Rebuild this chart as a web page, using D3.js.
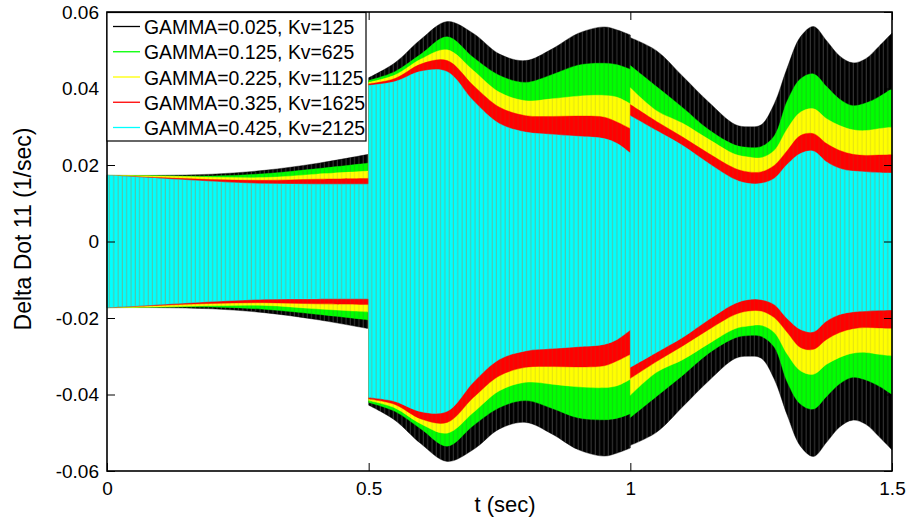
<!DOCTYPE html>
<html><head><meta charset="utf-8">
<script src="https://cdn.jsdelivr.net/npm/d3@7"></script>
<style>body{margin:0;background:#fff;} text{font-family:Arial,"Liberation Sans",sans-serif;fill:#000;}</style>
</head><body><svg id="c" width="918" height="527"></svg>
<script>
// ---- data: envelope amplitude of each oscillating signal ----
// a repeated time marks a step (discontinuity) in the envelope
const times = [0, 0.1, 0.2, 0.3, 0.4, 0.5,
  0.5, 0.55, 0.6, 0.65, 0.7, 0.75, 0.8, 0.85, 0.9, 0.95, 0.975, 1.0,
  1.0, 1.05, 1.1, 1.15, 1.2, 1.225, 1.25, 1.275, 1.3, 1.325, 1.35, 1.375, 1.4, 1.425, 1.45, 1.475, 1.5];
const ampGamma025 = [0.0173, 0.0173, 0.0176, 0.0186, 0.0204, 0.0228,
  0.0428, 0.0467, 0.0529, 0.0575, 0.0544, 0.0490, 0.0473, 0.0503, 0.0544, 0.0561, 0.0553, 0.0540,
  0.0533, 0.0499, 0.0432, 0.0364, 0.0306, 0.0300, 0.0305, 0.0360, 0.0455, 0.0535, 0.0562, 0.0525, 0.0485, 0.0467, 0.0478, 0.0510, 0.0545];
const ampGamma125 = [0.0173, 0.0172, 0.0171, 0.0177, 0.0190, 0.0205,
  0.0421, 0.0444, 0.0490, 0.0535, 0.0481, 0.0434, 0.0416, 0.0436, 0.0461, 0.0466, 0.0462, 0.0450,
  0.0460, 0.0405, 0.0350, 0.0292, 0.0252, 0.0246, 0.0248, 0.0276, 0.0368, 0.0425, 0.0438, 0.0405, 0.0372, 0.0355, 0.0362, 0.0378, 0.0400];
const ampGamma225 = [0.0173, 0.0171, 0.0168, 0.0167, 0.0176, 0.0184,
  0.0416, 0.0435, 0.0477, 0.0501, 0.0447, 0.0390, 0.0368, 0.0373, 0.0380, 0.0382, 0.0377, 0.0360,
  0.0402, 0.0342, 0.0309, 0.0267, 0.0228, 0.0221, 0.0219, 0.0238, 0.0295, 0.0338, 0.0347, 0.0321, 0.0303, 0.0292, 0.0290, 0.0295, 0.0299];
const ampGamma325 = [0.0173, 0.0167, 0.0162, 0.0160, 0.0163, 0.0165,
  0.0412, 0.0426, 0.0464, 0.0473, 0.0408, 0.0351, 0.0329, 0.0327, 0.0328, 0.0325, 0.0312, 0.0295,
  0.0358, 0.0314, 0.0273, 0.0230, 0.0191, 0.0182, 0.0182, 0.0199, 0.0238, 0.0277, 0.0282, 0.0256, 0.0238, 0.0228, 0.0225, 0.0226, 0.0227];
const ampGamma425 = [0.0173, 0.0165, 0.0157, 0.0151, 0.0150, 0.0150,
  0.0408, 0.0418, 0.0445, 0.0444, 0.0368, 0.0308, 0.0286, 0.0280, 0.0275, 0.0269, 0.0256, 0.0231,
  0.0329, 0.0290, 0.0251, 0.0204, 0.0162, 0.0152, 0.0152, 0.0165, 0.0202, 0.0230, 0.0236, 0.0208, 0.0191, 0.0184, 0.0182, 0.0180, 0.0179];
const seriesNames = ["GAMMA=0.025, Kv=125", "GAMMA=0.125, Kv=625", "GAMMA=0.225, Kv=1125", "GAMMA=0.325, Kv=1625", "GAMMA=0.425, Kv=2125"];
const seriesAmps = [ampGamma025, ampGamma125, ampGamma225, ampGamma325, ampGamma425];
const xTicks = [0, 0.5, 1, 1.5];
const xTickLabels = ["0", "0.5", "1", "1.5"];
const yTicks = [-0.06, -0.04, -0.02, 0, 0.02, 0.04, 0.06];
const yTickLabels = ["-0.06", "-0.04", "-0.02", "0", "0.02", "0.04", "0.06"];
const xTitle = "t (sec)";
const yTitle = "Delta Dot 11 (1/sec)";

// ---- styles ----
const colors = ["#000000", "#00ff00", "#ffff00", "#ff0000", "#00ffff"];
const stripeColors = ["#ffffff", "#3c6a3c", "#a8a040", "#a04a20", "#8c9a6c"];
const stripeOpac = [0.25, 0.35, 0.35, 0.3, 0.75];

const svg = d3.select("#c");
const L = 107, R = 892, T = 12, B = 471;
const x = d3.scaleLinear().domain([0, 1.5]).range([L, R]);
const y = d3.scaleLinear().domain([-0.06, 0.06]).range([B, T]);

const defs = svg.append("defs");
colors.forEach((c, i) => {
  const p = defs.append("pattern").attr("id", "p" + i).attr("patternUnits", "userSpaceOnUse")
    .attr("width", 4.3).attr("height", 20);
  p.append("rect").attr("width", 4.3).attr("height", 20).attr("fill", c);
  p.append("rect").attr("x", 1.5).attr("width", 0.9).attr("height", 20).attr("fill", stripeColors[i]).attr("opacity", stripeOpac[i]);
});

// split into continuous segments at repeated times
function segmentsOf(amps) {
  const segs = [];
  let cur = [];
  times.forEach((t, k) => {
    if (k > 0 && t === times[k - 1]) { segs.push(cur); cur = []; }
    cur.push({ t: t, a: amps[k] });
  });
  segs.push(cur);
  return segs;
}

const series = seriesNames.map((n, i) => ({ name: n, color: colors[i], idx: i, segs: segmentsOf(seriesAmps[i]) }));

const area = d3.area()
  .x(d => x(d.t))
  .y0(d => y(-d.a))
  .y1(d => y(d.a))
  .curve(d3.curveCatmullRom.alpha(0.5));

const g = svg.append("g");
series.forEach(s => {
  g.append("g").selectAll("path").data(s.segs).join("path")
    .attr("d", d => area(d))
    .attr("fill", "url(#p" + s.idx + ")")
    .attr("stroke", s.color).attr("stroke-width", 0.4);
});

// ---- axes ----
const fs = 19;
const ax = svg.append("g");
ax.append("g").attr("transform", `translate(${L},0)`)
  .call(d3.axisLeft(y).tickValues(yTicks).tickFormat((d, i) => yTickLabels[i]).tickSizeInner(-8).tickSizeOuter(0).tickPadding(8));
ax.append("g").attr("transform", `translate(0,${B})`)
  .call(d3.axisBottom(x).tickValues(xTicks).tickFormat((d, i) => xTickLabels[i]).tickSizeInner(-8).tickSizeOuter(0).tickPadding(11));
ax.append("g").attr("transform", `translate(${R},0)`)
  .call(d3.axisRight(y).tickValues(yTicks).tickFormat("").tickSizeInner(-8).tickSizeOuter(0));
ax.append("g").attr("transform", `translate(0,${T})`)
  .call(d3.axisTop(x).tickValues(xTicks).tickFormat("").tickSizeInner(-8).tickSizeOuter(0));
ax.selectAll(".domain").remove();
ax.selectAll(".tick line").attr("stroke", "#000").attr("stroke-width", 1);
ax.selectAll(".tick text").attr("font-size", fs).attr("font-family", "Arial, 'Liberation Sans', sans-serif").attr("fill", "#000");

svg.append("rect").attr("x", L).attr("y", T).attr("width", R - L).attr("height", B - T)
  .attr("fill", "none").attr("stroke", "#000").attr("stroke-width", 1.6);

svg.append("text").attr("x", 505).attr("y", 512).attr("text-anchor", "middle").attr("font-size", 22).text(xTitle);
svg.append("text").attr("transform", "translate(31,229) rotate(-90)").attr("text-anchor", "middle").attr("font-size", 23).text(yTitle);

// ---- legend ----
const lg = svg.append("g");
lg.append("rect").attr("x", 107).attr("y", 12.5).attr("width", 259).attr("height", 128.5)
  .attr("fill", "#fff").attr("stroke", "#000").attr("stroke-width", 1.2);
series.forEach((s, i) => {
  const yy = 26.5 + i * 25.25;
  lg.append("line").attr("x1", 113).attr("x2", 140).attr("y1", yy).attr("y2", yy)
    .attr("stroke", s.color).attr("stroke-width", 1.3);
  lg.append("text").attr("x", 144).attr("y", 34 + i * 25.25).attr("font-size", 19.4).text(s.name);
});
</script></body></html>
